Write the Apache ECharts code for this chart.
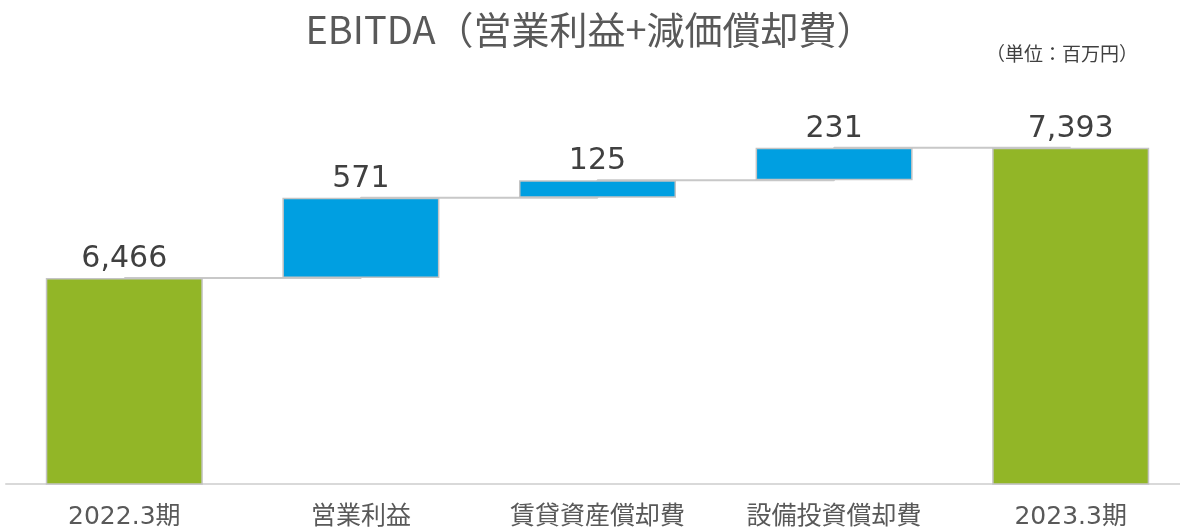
<!DOCTYPE html>
<html>
<head>
<meta charset="utf-8">
<script src="https://cdn.jsdelivr.net/npm/echarts@6/dist/echarts.min.js"></script>
<style>
  html, body { margin: 0; padding: 0; background: #fff; }
  #main { width: 1180px; height: 532px; }
</style>
</head>
<body>
<div id="main"></div>
<script>
  // data
  var categories = ['2022.3期', '営業利益', '賃貸資産償却費', '設備投資償却費', '2023.3期'];
  var startValue = 6466;
  var changes = [571, 125, 231];
  var endValue = 7393;

  // waterfall helpers: transparent base + visible part
  var base = [0];
  var visible = [startValue];
  var tops = [startValue];
  var run = startValue;
  changes.forEach(function (c) {
    base.push(run);
    visible.push(c);
    run += c;
    tops.push(run);
  });
  base.push(0);
  visible.push(endValue);
  tops.push(endValue);

  var GREEN = '#92b627';
  var BLUE = '#009fe1';

  var chart = echarts.init(document.getElementById('main'));
  chart.setOption({
    animation: false,
    title: [
      {
        text: 'EBITDA（営業利益+減価償却費）',
        left: 'center',
        top: 6,
        textStyle: {
          fontSize: 38,
          fontWeight: 'normal',
          color: '#595959',
          fontFamily: 'Noto Sans CJK JP'
        }
      },
      {
        text: '（単位：百万円）',
        right: 37,
        top: 39,
        textStyle: {
          fontSize: 19,
          fontWeight: 'normal',
          color: '#404040',
          fontFamily: 'Noto Sans CJK JP'
        }
      }
    ],
    grid: { left: 6, width: 1183, top: 62.5, height: 421.5, outerBoundsMode: 'none' },
    xAxis: {
      type: 'category',
      data: categories,
      axisLine: { lineStyle: { color: '#d9d9d9', width: 2 } },
      axisTick: { show: false },
      axisLabel: {
        margin: 21,
        fontSize: 25,
        color: '#595959',
        fontFamily: 'DejaVu Sans, Noto Sans CJK JP'
      }
    },
    yAxis: {
      type: 'value',
      min: 5000,
      max: 8000,
      show: false,
      splitLine: { show: false }
    },
    series: [
      {
        // connector lines between bars
        type: 'line',
        data: tops,
        step: 'end',
        symbol: 'none',
        z: 1,
        lineStyle: { color: '#c8c8c8', width: 2 }
      },
      {
        name: 'base',
        type: 'bar',
        stack: 'wf',
        data: base,
        barWidth: 157,
        itemStyle: { color: 'transparent' },
        z: 2
      },
      {
        name: 'value',
        type: 'bar',
        stack: 'wf',
        barWidth: 157,
        z: 3,
        data: visible.map(function (v, i) {
          var total = (i === 0 || i === visible.length - 1);
          return { value: v, itemStyle: { color: total ? GREEN : BLUE } };
        }),
        itemStyle: { borderColor: '#c4c4c4', borderWidth: 1.5 },
        label: {
          show: true,
          position: 'top',
          distance: 4,
          fontSize: 30,
          color: '#404040',
          fontFamily: 'DejaVu Sans',
          formatter: function (p) {
            return p.value.toLocaleString('en-US');
          }
        }
      }
    ]
  });
</script>
</body>
</html>
